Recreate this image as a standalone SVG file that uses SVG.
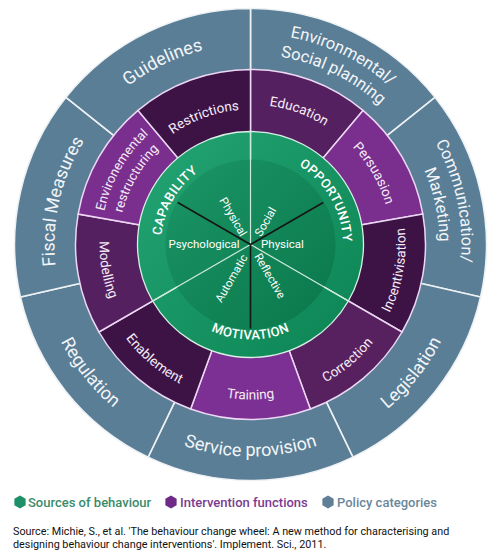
<svg xmlns="http://www.w3.org/2000/svg" width="499" height="553" viewBox="0 0 499 553">
<style>
.pol{fill:#5a7e96;stroke:#eef2f5;stroke-width:1.6}
.int{stroke:#edd8f3;stroke-width:1.5}
.grn{stroke:#d9efe5;stroke-width:1.3}
.pt{font-family:Roboto,"Liberation Sans",sans-serif;font-size:18px;fill:#f2f5f8;text-anchor:middle}
.pt2{font-family:Roboto,"Liberation Sans",sans-serif;font-size:16.5px;fill:#f2f5f8;text-anchor:middle}
.it{font-family:Roboto,"Liberation Sans",sans-serif;font-size:13.5px;fill:#f6ecf8;text-anchor:middle}
.gt{font-family:Roboto,"Liberation Sans",sans-serif;font-size:13px;font-weight:500;fill:#ffffff;text-anchor:middle;letter-spacing:0.4px}
.st{font-family:Roboto,"Liberation Sans",sans-serif;font-size:11.5px;fill:#ffffff;text-anchor:middle}
.lg{font-family:Roboto,"Liberation Sans",sans-serif;font-size:13px;font-weight:500}
.src{font-family:Roboto,"Liberation Sans",sans-serif;font-size:10.8px;fill:#111111}
</style>
<defs>
<linearGradient id="gRing" gradientUnits="userSpaceOnUse" x1="150" y1="150" x2="350" y2="340">
<stop offset="0" stop-color="#22a272"/><stop offset="1" stop-color="#0d8655"/>
</linearGradient>
<linearGradient id="gCore" gradientUnits="userSpaceOnUse" x1="180" y1="175" x2="320" y2="315">
<stop offset="0" stop-color="#1a9364"/><stop offset="1" stop-color="#0b7a4c"/>
</linearGradient>
<path id="tp-guid" d="M61.73,178.43 A200,200 0 0 1 316.57,55.73"/>
<path id="tp-fisc" d="M84.52,348.76 A196,196 0 0 1 146.24,78.52"/>
<path id="tp-env1" d="M181.80,44.99 A211,211 0 0 1 450.01,175.81"/>
<path id="tp-env2" d="M188.64,64.85 A190,190 0 0 1 430.15,182.64"/>
<path id="tp-com1" d="M365.42,67.54 A211,211 0 0 1 427.46,359.41"/>
<path id="tp-com2" d="M353.44,86.01 A189,189 0 0 1 409.01,347.44"/>
<path id="tp-legi" d="M274.46,457.15 A214,214 0 0 0 463.15,220.54"/>
<path id="tp-serv" d="M100.59,394.41 A212,212 0 0 0 400.41,394.41"/>
<path id="tp-regu" d="M38.84,220.65 A213,213 0 0 0 226.65,456.16"/>
<path id="tp-rest" d="M133.59,177 A135,135 0 0 1 296.67,117.64"/>
<path id="tp-educ" d="M202.62,112.94 A140,140 0 0 1 371.74,174.5"/>
<path id="tp-pers" d="M298.72,112 A141,141 0 0 1 389.36,268.98"/>
<path id="tp-ince" d="M350.13,363.24 A155,155 0 0 0 384.73,167"/>
<path id="tp-corr" d="M250.5,401.5 A157,157 0 0 0 405.12,271.76"/>
<path id="tp-trai" d="M150.87,363.24 A155,155 0 0 0 350.13,363.24"/>
<path id="tp-enab" d="M96.87,271.59 A156,156 0 0 0 250.5,400.5"/>
<path id="tp-mode" d="M119.73,169 A151,151 0 0 0 153.44,360.17"/>
<path id="tp-envr1" d="M102.78,270.55 A150,150 0 0 1 199.2,103.55"/>
<path id="tp-envr2" d="M120.51,267.42 A132,132 0 0 1 205.35,120.46"/>
<path id="tp-capa" d="M166.4,275.11 A89.5,89.5 0 0 1 234.96,156.36"/>
<path id="tp-oppo" d="M266.56,153.41 A92.5,92.5 0 0 1 337.42,276.14"/>
<path id="tp-moti" d="M177.73,305.57 A95,95 0 0 0 323.27,305.57"/>
</defs>

<g id="policy-categories">
<g id="policy-env-social"><path class="pol" d="M250.5,244.5 L250.5,8.5 A236,236 0 0 1 435.01,97.36 Z"/>
<text class="pt2"><textPath href="#tp-env1" startOffset="50%">Environmental/</textPath></text>
<text class="pt2"><textPath href="#tp-env2" startOffset="50%">Social planning</textPath></text></g>
<g id="policy-communication"><path class="pol" d="M250.5,244.5 L435.01,97.36 A236,236 0 0 1 480.58,297.01 Z"/>
<text class="pt2"><textPath href="#tp-com1" startOffset="50%">Communication/</textPath></text>
<text class="pt2"><textPath href="#tp-com2" startOffset="50%">Marketing</textPath></text></g>
<g id="policy-legislation"><path class="pol" d="M250.5,244.5 L480.58,297.01 A236,236 0 0 1 352.9,457.13 Z"/>
<text class="pt"><textPath href="#tp-legi" startOffset="50%">Legislation</textPath></text></g>
<g id="policy-service"><path class="pol" d="M250.5,244.5 L352.9,457.13 A236,236 0 0 1 148.1,457.13 Z"/>
<text class="pt"><textPath href="#tp-serv" startOffset="50%">Service provision</textPath></text></g>
<g id="policy-regulation"><path class="pol" d="M250.5,244.5 L148.1,457.13 A236,236 0 0 1 20.42,297.01 Z"/>
<text class="pt"><textPath href="#tp-regu" startOffset="50%">Regulation</textPath></text></g>
<g id="policy-fiscal"><path class="pol" d="M250.5,244.5 L20.42,297.01 A236,236 0 0 1 65.99,97.36 Z"/>
<text class="pt"><textPath href="#tp-fisc" startOffset="50%">Fiscal Measures</textPath></text></g>
<g id="policy-guidelines"><path class="pol" d="M250.5,244.5 L65.99,97.36 A236,236 0 0 1 250.5,8.5 Z"/>
<text class="pt"><textPath href="#tp-guid" startOffset="50%">Guidelines</textPath></text></g>
</g>

<g id="intervention-functions">
<g id="int-education"><path class="int" fill="#54205f" d="M250.5,244.5 L250.5,69.5 A175,175 0 0 1 362.99,110.44 Z"/>
<text class="it"><textPath href="#tp-educ" startOffset="50%">Education</textPath></text></g>
<g id="int-persuasion"><path class="int" fill="#7a2f8f" d="M250.5,244.5 L362.99,110.44 A175,175 0 0 1 422.84,214.11 Z"/>
<text class="it"><textPath href="#tp-pers" startOffset="50%">Persuasion</textPath></text></g>
<g id="int-incentivisation"><path class="int" fill="#3d1346" d="M250.5,244.5 L422.84,214.11 A175,175 0 0 1 402.05,332 Z"/>
<text class="it"><textPath href="#tp-ince" startOffset="50%">Incentivisation</textPath></text></g>
<g id="int-correction"><path class="int" fill="#57215f" d="M250.5,244.5 L402.05,332 A175,175 0 0 1 310.35,408.95 Z"/>
<text class="it"><textPath href="#tp-corr" startOffset="50%">Correction</textPath></text></g>
<g id="int-training"><path class="int" fill="#7c3093" d="M250.5,244.5 L310.35,408.95 A175,175 0 0 1 190.65,408.95 Z"/>
<text class="it"><textPath href="#tp-trai" startOffset="50%">Training</textPath></text></g>
<g id="int-enablement"><path class="int" fill="#3d1346" d="M250.5,244.5 L190.65,408.95 A175,175 0 0 1 98.95,332 Z"/>
<text class="it"><textPath href="#tp-enab" startOffset="50%">Enablement</textPath></text></g>
<g id="int-modelling"><path class="int" fill="#54205f" d="M250.5,244.5 L98.95,332 A175,175 0 0 1 78.16,214.11 Z"/>
<text class="it"><textPath href="#tp-mode" startOffset="50%">Modelling</textPath></text></g>
<g id="int-env-restructuring"><path class="int" fill="#7a2f8f" d="M250.5,244.5 L78.16,214.11 A175,175 0 0 1 138.01,110.44 Z"/>
<text class="it" style="font-size:13px"><textPath href="#tp-envr1" startOffset="50%">Environemental</textPath></text>
<text class="it" style="font-size:13px"><textPath href="#tp-envr2" startOffset="50%">restructuring</textPath></text></g>
<g id="int-restrictions"><path class="int" fill="#3d1346" d="M250.5,244.5 L138.01,110.44 A175,175 0 0 1 250.5,69.5 Z"/>
<text class="it"><textPath href="#tp-rest" startOffset="50%">Restrictions</textPath></text></g>
</g>

<g id="sources-of-behaviour">
<g id="src-opportunity"><path class="grn" fill="url(#gRing)" d="M250.5,244.5 L250.5,131.5 A113,113 0 0 1 348.36,301 Z"/></g>
<g id="src-motivation"><path class="grn" fill="url(#gRing)" d="M250.5,244.5 L348.36,301 A113,113 0 0 1 152.64,301 Z"/></g>
<g id="src-capability"><path class="grn" fill="url(#gRing)" d="M250.5,244.5 L152.64,301 A113,113 0 0 1 250.5,131.5 Z"/></g>
<circle id="core" cx="250.5" cy="244.5" r="85" fill="url(#gCore)"/>
</g>

<g id="connectors">
<line x1="250.5" y1="244.5" x2="250.5" y2="131.5" stroke="#cfe9dc" stroke-width="1.2"/>
<line x1="250.5" y1="244.5" x2="348.36" y2="301" stroke="#cfe9dc" stroke-width="1.2"/>
<line x1="250.5" y1="244.5" x2="152.64" y2="301" stroke="#cfe9dc" stroke-width="1.2"/>
<line x1="250.5" y1="244.5" x2="177.75" y2="202.5" stroke="#161616" stroke-width="1.6"/>
<line x1="250.5" y1="244.5" x2="323.25" y2="202.5" stroke="#161616" stroke-width="1.6"/>
<line x1="250.5" y1="244.5" x2="250.5" y2="328.5" stroke="#161616" stroke-width="1.6"/>
</g>

<g id="labels-sources">
<g id="lbl-capability"><text class="gt"><textPath href="#tp-capa" startOffset="50%">CAPABILITY</textPath></text></g>
<g id="lbl-opportunity"><text class="gt"><textPath href="#tp-oppo" startOffset="50%">OPPORTUNITY</textPath></text></g>
<g id="lbl-motivation"><text class="gt"><textPath href="#tp-moti" startOffset="50%">MOTIVATION</textPath></text></g>
<g id="sub-cap-physical"><text class="st" transform="translate(233.3,216.7) rotate(60)" dy="0.35em">Physical</text></g>
<g id="sub-psychological"><text class="st" x="204" y="248">Psychological</text></g>
<g id="sub-social"><text class="st" transform="translate(265.3,221.7) rotate(-60)" dy="0.35em">Social</text></g>
<g id="sub-opp-physical"><text class="st" x="282.5" y="248">Physical</text></g>
<g id="sub-automatic"><text class="st" transform="translate(231.2,278.3) rotate(-60)" dy="0.35em">Automatic</text></g>
<g id="sub-reflective"><text class="st" transform="translate(270,275.8) rotate(60)" dy="0.35em">Reflective</text></g>
</g>

<g id="legend">
<polygon points="20,495.5 25.63,498.75 25.63,505.25 20,508.5 14.37,505.25 14.37,498.75" fill="#1e9068"/>
<text class="lg" x="28" y="507" fill="#3a8b6b">Sources of behaviour</text>
<polygon points="171,495.5 176.63,498.75 176.63,505.25 171,508.5 165.37,505.25 165.37,498.75" fill="#6e2a86"/>
<text class="lg" x="180" y="507" fill="#7b3b90">Intervention functions</text>
<polygon points="328,495.5 333.63,498.75 333.63,505.25 328,508.5 322.37,505.25 322.37,498.75" fill="#5f7f96"/>
<text class="lg" x="337" y="507" fill="#6a879b">Policy categories</text>
</g>

<g id="source">
<text class="src" x="13" y="535">Source: Michie, S., et al. 'The behaviour change wheel: A new method for characterising and</text>
<text class="src" x="13" y="548">designing behaviour change interventions'. Implement. Sci., 2011.</text>
</g>
</svg>
